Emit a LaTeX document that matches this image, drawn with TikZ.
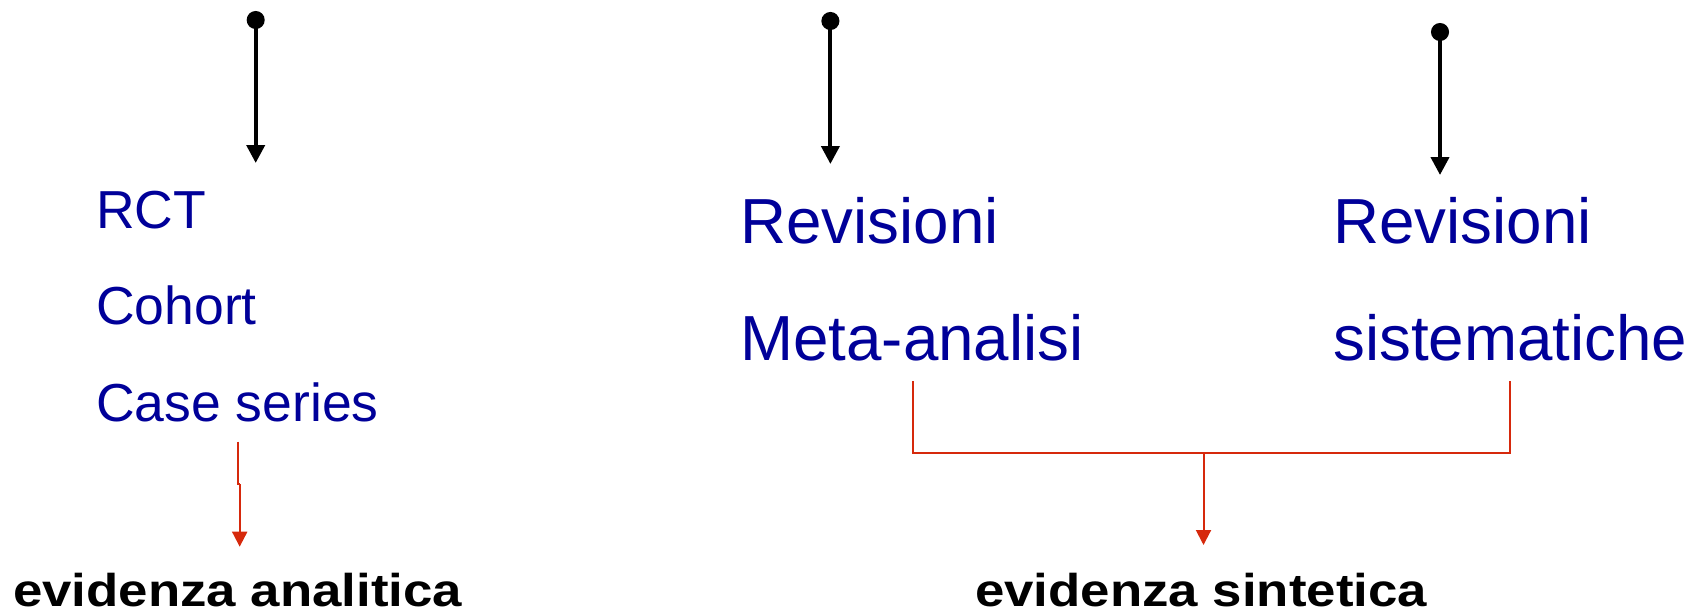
\documentclass[tikz,border=0pt]{standalone}
\usepackage{fontspec}
\setmainfont{Liberation Sans}
\usetikzlibrary{arrows.meta}
\definecolor{txtblue}{RGB}{0,0,153}
\definecolor{linered}{RGB}{214,41,12}
\newcommand{\widebold}[1]{\scalebox{1.148}[1]{\bfseries #1}}
\tikzset{
  listsmall/.style={anchor=base west, inner sep=0pt, text=txtblue, font=\fontsize{53.5}{60}\selectfont},
  listbig/.style={anchor=base west, inner sep=0pt, text=txtblue, font=\fontsize{63.7}{70}\selectfont},
  result/.style={anchor=base west, inner sep=0pt, text=black, font=\fontsize{46}{52}\selectfont},
  blackarrow/.style={line width=4pt, {Circle[length=18pt,width=18pt]}-{Triangle[length=18pt,width=18pt]}},
  redline/.style={line width=2pt, draw=linered},
  redarrow/.style={redline, -{Triangle[length=15pt,width=15pt]}, color=linered},
}
\begin{document}
\begin{tikzpicture}[x=1pt,y=-1pt]
\useasboundingbox (0,0) rectangle (1691,613);
% black arrows
\coordinate (s1) at (255.7,11);
\coordinate (e1) at (255.7,163);
\coordinate (s2) at (830.4,12);
\coordinate (e2) at (830.4,164);
\coordinate (s3) at (1440,23);
\coordinate (e3) at (1440,175);
\draw[blackarrow] (s1) -- (e1);
\draw[blackarrow] (s2) -- (e2);
\draw[blackarrow] (s3) -- (e3);
% text lists
\node[listsmall] (rct) at (96,228.3) {RCT};
\node[listsmall] (coh) at (96,324) {Cohort};
\node[listsmall] (case) at (96,421.7) {Case series};
\node[listbig] (rev1) at (740,243.3) {Revisioni};
\node[listbig] (meta) at (740,360) {Meta-analisi};
\node[listbig] (rev2) at (1333,243.3) {Revisioni};
\node[listbig] (sist) at (1333,360) {sistematiche};
% results
\node[result] (ana) at (13,606.5) {\widebold{evidenza analitica}};
\node[result] (sin) at (975,606.5) {\widebold{evidenza sintetica}};
% red connectors
\coordinate (l1) at (237.7,441.7);
\coordinate (l2) at (237.7,484);
\coordinate (l3) at (239.7,484);
\coordinate (l4) at (239.7,546.7);
\draw[redline] (l1) -- (l2) -- (l3);
\draw[redarrow] (l3) -- (l4);
\coordinate (b1) at (913.4,381);
\coordinate (b2) at (913.4,453.3);
\coordinate (b3) at (1509.8,453.3);
\coordinate (b4) at (1509.8,381);
\coordinate (bm) at (1203.5,453.3);
\coordinate (bt) at (1203.5,545);
\draw[redline] (b1) -- (b2) -- (b3) -- (b4);
\draw[redarrow] (bm) -- (bt);
\end{tikzpicture}
\end{document}
